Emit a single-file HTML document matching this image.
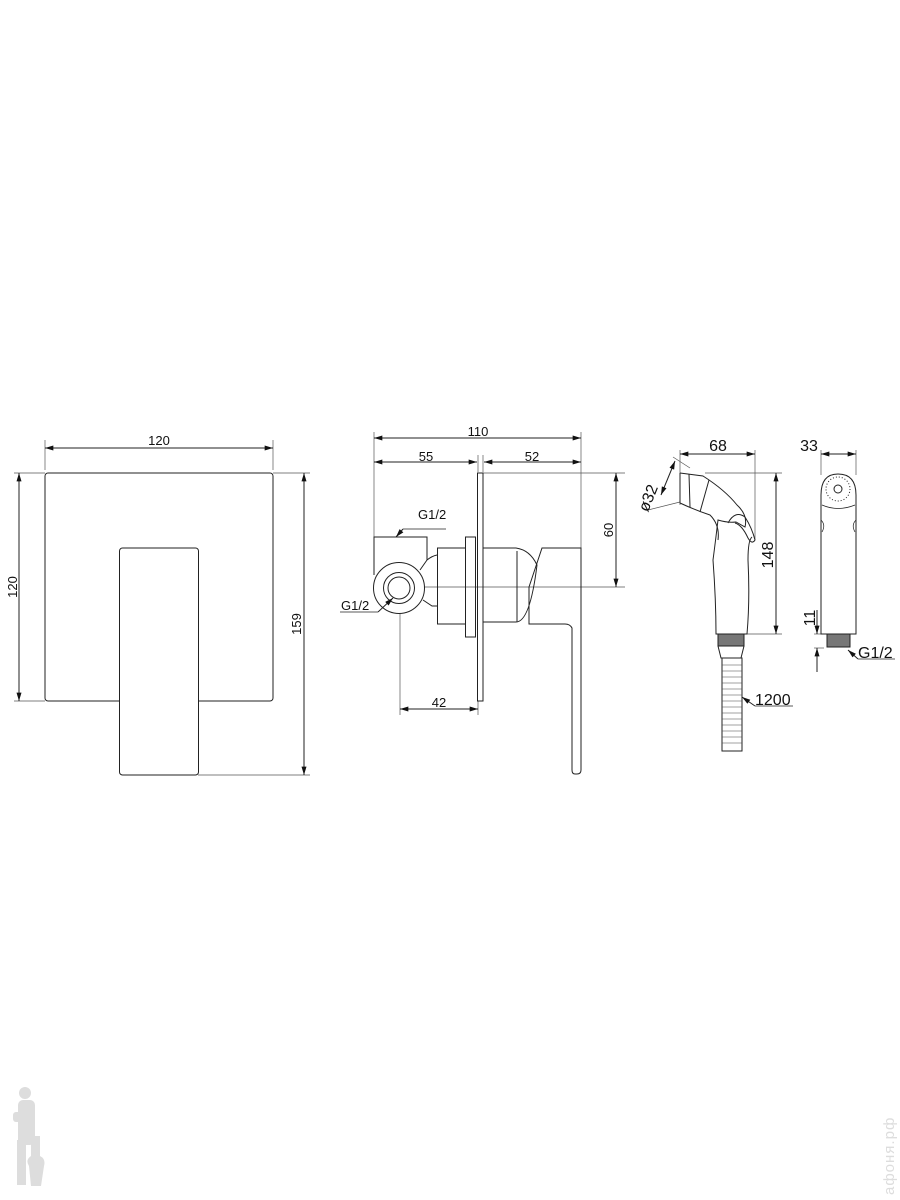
<!DOCTYPE html>
<html><head><meta charset="utf-8"><style>
html,body{margin:0;padding:0;background:#fff;}
svg{display:block;}
text{font-family:"Liberation Sans",sans-serif;fill:#111;}
</style></head><body>
<svg width="900" height="1200" viewBox="0 0 900 1200" xmlns="http://www.w3.org/2000/svg">
<defs>
<marker id="a" viewBox="0 0 10 6" refX="10" refY="3" markerWidth="12" markerHeight="5" orient="auto-start-reverse" markerUnits="userSpaceOnUse"><path d="M0,0L10,3L0,6z" fill="#111"/></marker>
</defs>
<g fill="none" stroke="#222" stroke-width="1">
<!-- LEFT VIEW -->
<rect x="45" y="473" width="228" height="228" rx="3"/>
<rect x="119.5" y="548" width="79" height="227" rx="3" fill="#fff"/>
<g stroke="#555" stroke-width="0.7">
<line x1="45" y1="440" x2="45" y2="470"/><line x1="273" y1="440" x2="273" y2="470"/>
<line x1="14" y1="473" x2="45" y2="473"/><line x1="14" y1="701" x2="45" y2="701"/>
<line x1="273" y1="473" x2="310" y2="473"/><line x1="198" y1="775" x2="310" y2="775"/>
</g>
<line x1="45" y1="448" x2="273" y2="448" marker-start="url(#a)" marker-end="url(#a)"/>
<line x1="19" y1="473" x2="19" y2="701" marker-start="url(#a)" marker-end="url(#a)"/>
<line x1="304" y1="473" x2="304" y2="775" marker-start="url(#a)" marker-end="url(#a)"/>

<!-- MIDDLE VIEW -->
<g stroke="#555" stroke-width="0.7">
<line x1="374" y1="432" x2="374" y2="537"/>
<line x1="581" y1="432" x2="581" y2="548"/>
<line x1="478" y1="455" x2="478" y2="472"/>
<line x1="483" y1="455" x2="483" y2="472"/>
<line x1="483" y1="473" x2="625" y2="473"/>
<line x1="400" y1="587" x2="625" y2="587"/>
<line x1="400" y1="587" x2="400" y2="715"/>
<line x1="478" y1="701" x2="478" y2="715"/>
</g>
<line x1="374" y1="438" x2="581" y2="438" marker-start="url(#a)" marker-end="url(#a)"/>
<line x1="374" y1="462" x2="477" y2="462" marker-start="url(#a)" marker-end="url(#a)"/>
<line x1="484" y1="462" x2="581" y2="462" marker-start="url(#a)" marker-end="url(#a)"/>
<line x1="616" y1="473" x2="616" y2="587" marker-start="url(#a)" marker-end="url(#a)"/>
<line x1="400" y1="709" x2="478" y2="709" marker-start="url(#a)" marker-end="url(#a)"/>
<rect x="477.5" y="473" width="5.5" height="228"/>
<path d="M374,575 V537 H427 V560 L420,570"/>
<circle cx="399" cy="588" r="25.5" fill="#fff"/>
<circle cx="399" cy="588" r="15.5"/>
<circle cx="399" cy="588" r="11"/>
<path d="M423,600 L432,606 H437"/>
<path d="M427,560 Q432,556 437,555"/>
<rect x="437.5" y="548" width="28" height="76"/>
<rect x="465.5" y="537" width="10" height="100"/>
<path d="M483,548 H516 Q530,550 537,565 Q530,622 516,622 H483"/>
<line x1="517" y1="551" x2="517" y2="622"/>
<path d="M529,587 L542,548 H581 V770 Q581,774 577,774 H575 Q572,774 572,770 V628 Q570,624 565,624 H529 Z"/>
<path d="M378,612 L393,598" marker-end="url(#a)"/>
<path d="M403,529 H446" stroke-width="0.7"/>
<path d="M403,529 L396,537" marker-end="url(#a)"/>
<line x1="378" y1="612" x2="340" y2="612" stroke-width="0.7"/>

<!-- HAND SHOWER -->
<g stroke="#555" stroke-width="0.7">
<line x1="680" y1="450" x2="680" y2="505"/>
<line x1="755" y1="450" x2="755" y2="540"/>
<line x1="705" y1="473" x2="782" y2="473"/>
<line x1="747" y1="634" x2="782" y2="634"/>
<line x1="673" y1="457" x2="690" y2="468"/>
<line x1="648" y1="510" x2="680" y2="502"/>
</g>
<line x1="680" y1="454" x2="755" y2="454" marker-start="url(#a)" marker-end="url(#a)"/>
<line x1="776" y1="473" x2="776" y2="634" marker-start="url(#a)" marker-end="url(#a)"/>
<line x1="675" y1="461" x2="661" y2="495" marker-start="url(#a)" marker-end="url(#a)"/>
<path d="M680,473 L703,476 Q725,490 737,505 Q748,515 745,527 L736,522 Q728,523 718,520 Q715,545 713,560 Q716,600 716,634 H747 Q750,600 748,560 Q748,540 752,537"/>
<path d="M680,473 L680,503 Q695,510 710,515 Q720,525 718,540"/>
<line x1="689" y1="474" x2="690" y2="507"/>
<line x1="709" y1="480" x2="700" y2="512"/>
<path d="M728,523 Q735,510 745,517 Q752,528 755,540 Q752,545 748,538 Q742,525 735,523"/>
<rect x="718" y="634" width="26" height="12" fill="#777"/>
<path d="M718,646 L721,658 H741 L744,646"/>
<rect x="722" y="658" width="20" height="93"/>
<g stroke="#444" stroke-width="0.6">
<line x1="722" y1="665" x2="742" y2="665"/><line x1="722" y1="671" x2="742" y2="671"/><line x1="722" y1="677" x2="742" y2="677"/><line x1="722" y1="683" x2="742" y2="683"/><line x1="722" y1="689" x2="742" y2="689"/><line x1="722" y1="695" x2="742" y2="695"/><line x1="722" y1="701" x2="742" y2="701"/><line x1="722" y1="707" x2="742" y2="707"/><line x1="722" y1="713" x2="742" y2="713"/><line x1="722" y1="719" x2="742" y2="719"/><line x1="722" y1="725" x2="742" y2="725"/><line x1="722" y1="731" x2="742" y2="731"/><line x1="722" y1="737" x2="742" y2="737"/><line x1="722" y1="743" x2="742" y2="743"/>
</g>
<path d="M755,706 L742,697" marker-end="url(#a)"/>
<line x1="755" y1="706" x2="793" y2="706" stroke-width="0.7"/>

<!-- SIDE VIEW -->
<g stroke="#555" stroke-width="0.7">
<line x1="821" y1="450" x2="821" y2="475"/><line x1="856" y1="450" x2="856" y2="475"/>
<line x1="814" y1="634" x2="821" y2="634"/><line x1="814" y1="648" x2="824" y2="648"/>
</g>
<line x1="821" y1="454" x2="856" y2="454" marker-start="url(#a)" marker-end="url(#a)"/>
<line x1="817" y1="610" x2="817" y2="634" marker-end="url(#a)"/>
<line x1="817" y1="672" x2="817" y2="648" marker-end="url(#a)"/>
<path d="M821,634 V495 Q821,474 838,474 Q856,474 856,495 V634 Z"/>
<path d="M822,505 Q838,512 855,505" stroke-width="0.7"/>
<circle cx="838" cy="489" r="4"/>
<circle cx="838" cy="489" r="12" stroke-dasharray="1 2"/>
<path d="M821,520 Q826,525 822,532" stroke-width="0.7"/>
<path d="M856,520 Q851,525 855,532" stroke-width="0.7"/>
<rect x="827" y="634" width="23" height="13" fill="#777"/>
<path d="M858,659 L848,650" marker-end="url(#a)"/>
<line x1="858" y1="659" x2="895" y2="659" stroke-width="0.7"/>
</g>

<g font-size="13">
<text x="159" y="445" text-anchor="middle">120</text>
<text transform="translate(17,587) rotate(-90)" text-anchor="middle">120</text>
<text transform="translate(301,624) rotate(-90)" text-anchor="middle">159</text>
<text x="478" y="436" text-anchor="middle">110</text>
<text x="426" y="461" text-anchor="middle">55</text>
<text x="532" y="461" text-anchor="middle">52</text>
<text transform="translate(613,530) rotate(-90)" text-anchor="middle">60</text>
<text x="418" y="519">G1/2</text>
<text x="341" y="610">G1/2</text>
<text x="439" y="707" text-anchor="middle">42</text>
</g>
<g font-size="16">
<text x="718" y="451" text-anchor="middle">68</text>
<text transform="translate(653,500) rotate(-68)" text-anchor="middle">ø32</text>
<text transform="translate(773,555) rotate(-90)" text-anchor="middle">148</text>
<text x="809" y="451" text-anchor="middle">33</text>
<text transform="translate(815,618) rotate(-90)" text-anchor="middle">11</text>
<text x="858" y="658">G1/2</text>
<text x="755" y="705">1200</text>
</g>

<!-- logo watermark -->
<g fill="#ddd" stroke="none">
<circle cx="25" cy="1093" r="6"/>
<rect x="18" y="1100" width="17" height="45" rx="5"/>
<rect x="13" y="1112" width="12" height="10" rx="3"/>
<rect x="17" y="1140" width="9" height="45"/>
<path d="M31,1136 h9 v20 q6,3 4,10 l-3,20 h-10 l-2,-20 q-4,-6 2,-10z"/>
</g>
<text transform="translate(894,1195) rotate(-90)" font-size="15" style="fill:#ddd" letter-spacing="1">афоня.рф</text>
</svg>
</body></html>
